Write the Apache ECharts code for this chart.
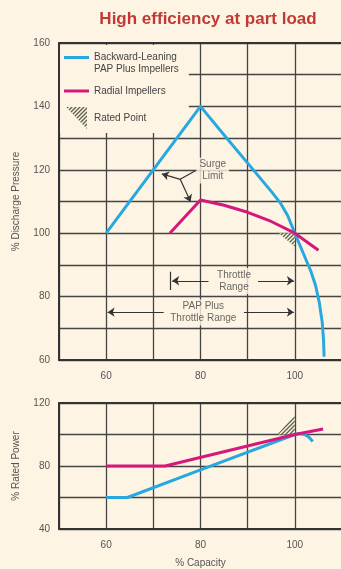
<!DOCTYPE html>
<html><head><meta charset="utf-8">
<script src="https://cdn.jsdelivr.net/npm/echarts@6/dist/echarts.min.js"></script>
<style>html,body{margin:0;padding:0;background:#fdf4e3;} #c{width:341px;height:569px;}</style>
</head><body><div id="c"></div>
<script>
// ---- data ----
const titleText = 'High efficiency at part load';
const capacityTicks = [60, 80, 100];
const pressureTicks = [60, 80, 100, 120, 140, 160];
const powerTicks = [40, 80, 120];
const nameBackward = 'Backward-Leaning\nPAP Plus Impellers';
const nameRadial = 'Radial Impellers';
const nameRated = 'Rated Point';

const pressureBackward = [[60,100],[80,140],[85,131],[90,122.1],[95,113.2],[97,109.4],[98.5,105.5],[100,100],[101.7,94],[103.4,88],[104.4,83.5],[105.2,78],[105.8,72],[106.1,66],[106.2,61]];
const pressureRadial = [[73.5,100],[80,110.5],[85,108.8],[90,106.6],[95,103.7],[100,100],[105,94.6]];
const powerBackward = [[60,60],[64.5,60],[80,77.5],[100,100],[101,100.7],[102,100.2],[103,98.3],[103.8,95.5]];
const powerRadial = [[60,80],[72.5,80],[100,100],[106,103.5]];
const ratedPressure = [100,100, 96.6,100, 100,95.7];
const ratedPower = [100,100, 96.3,100, 100,112.5];

const annotationTexts = [
  {name:'Surge\nLimit', value:[82.6,119.8]},
  {name:'Throttle\nRange', value:[87.1,84.9]},
  {name:'PAP Plus\nThrottle Range', value:[80.6,75]}
];
const plainSegments = [
  [[78.9,119.7],[75.7,117]],
  [[73.6,87.8],[73.6,82.1]]
];
const arrowSegments = [
  [[75.7,117],[71.8,118.7]],
  [[75.7,117],[77.9,109.9]],
  [[81.7,85],[74,85]],
  [[92.2,85],[99.8,85]],
  [[72.2,75.1],[60.3,75.1]],
  [[89.2,75.1],[99.8,75.1]]
];

// ---- styles ----
const BG = '#fdf4e3';
const FONT = 'Liberation Sans, Arial, sans-serif';
const BLUE = '#29a8df';
const PINK = '#d4187c';
const GRID = '#454545';
const AX = '#333';

function hatchCanvas(){
  const c = document.createElement('canvas'); c.width = 4; c.height = 4;
  const g = c.getContext('2d');
  g.fillStyle = BG; g.fillRect(0,0,4,4);
  g.strokeStyle = '#5a604c'; g.lineWidth = 1.3;
  g.beginPath();
  g.moveTo(0,4); g.lineTo(4,0);
  g.moveTo(-1,1); g.lineTo(1,-1);
  g.moveTo(3,5); g.lineTo(5,3);
  g.stroke();
  return c;
}
const hatch = {image: hatchCanvas(), repeat: 'repeat'};

function xAx(grid){
  return {gridIndex:grid, type:'value', min:50, max:110, interval:10,
    axisLine:{show:true, onZero:false, lineStyle:{color:AX, width:2}},
    axisTick:{show:false},
    axisLabel:{margin:11, fontSize:10, color:'#555', fontFamily:FONT,
      formatter:v => capacityTicks.includes(v) ? String(v) : ''},
    splitLine:{show:true, lineStyle:{color:GRID, width:1.3}}};
}
function topAx(grid){
  return {gridIndex:grid, type:'value', min:50, max:110, interval:10, position:'top',
    axisLine:{show:true, onZero:false, lineStyle:{color:AX, width:2}},
    axisTick:{show:false}, axisLabel:{show:false}, splitLine:{show:false}};
}
function yAx(grid, min, max, ticks, name){
  return {gridIndex:grid, type:'value', min:min, max:max, interval:10,
    axisLine:{show:true, onZero:false, lineStyle:{color:AX, width:2}},
    axisTick:{show:false},
    axisLabel:{margin:9, fontSize:10, color:'#555', fontFamily:FONT,
      formatter:v => ticks.includes(v) ? String(v) : ''},
    splitLine:{show:true, lineStyle:{color:GRID, width:1.3}},
    name:name, nameLocation:'middle', nameGap:38,
    nameTextStyle:{fontSize:10, color:'#555', fontFamily:FONT}};
}
function triSeries(vals, xi, yi){
  return {type:'custom', name:nameRated, xAxisIndex:xi, yAxisIndex:yi, z:1, silent:true,
    itemStyle:{color:hatch},
    data:[vals],
    renderItem:(p, api) => {
      const pts = [0,2,4].map(i => api.coord([api.value(i), api.value(i+1)]));
      return {type:'polygon', shape:{points:pts}, style:{fill:hatch}};
    }};
}
function lineSeries(name, data, color, xi, yi){
  return {type:'line', name:name, xAxisIndex:xi, yAxisIndex:yi, data:data, showSymbol:false,
    symbol:'none', smooth:false, z:3, color:color, lineStyle:{color:color, width:3, join:'round'}};
}

const yBottom = yAx(1, 40, 120, powerTicks, '% Rated Power');
yBottom.interval = 20;
const xBottom = xAx(1);
xBottom.name = '% Capacity'; xBottom.nameLocation = 'middle'; xBottom.nameGap = 29;
xBottom.nameTextStyle = {fontSize:10, color:'#555', fontFamily:FONT};

const option = {
  animation:false,
  backgroundColor:BG,
  textStyle:{fontFamily:FONT},
  title:{text:titleText, left:203, top:6, textAlign:'center',
    textStyle:{fontSize:17, fontWeight:'bold', color:'#c03a33', fontFamily:FONT}},
  legend:{left:60, top:45, z:1, orient:'vertical', backgroundColor:BG, padding:[6,10,4,4],
    itemGap:5, itemWidth:25, itemHeight:22, selectedMode:false,
    textStyle:{fontSize:10, color:'#444', lineHeight:12, fontFamily:FONT},
    data:[
      {name:nameBackward, icon:'path://M0,0h0.05v0.05h-0.05z M0,4h25v3h-25z M24.95,21.95h0.05v0.05h-0.05z'},
      {name:nameRadial, icon:'path://M0,0h0.05v0.05h-0.05z M0,9.5h25v3h-25z M24.95,21.95h0.05v0.05h-0.05z'},
      {name:nameRated, icon:'path://M3,0L24,0L24,22Z'}
    ]},
  grid:[
    {left:59, right:-1, top:43, bottom:209, outerBoundsMode:'none', containLabel:false},
    {left:59, right:-1, top:403, bottom:40, outerBoundsMode:'none', containLabel:false}
  ],
  xAxis:[xAx(0), xBottom, topAx(0), topAx(1)],
  yAxis:[yAx(0, 60, 160, pressureTicks, '% Discharge Pressure'), yBottom],
  series:[
    triSeries(ratedPressure, 0, 0),
    triSeries(ratedPower, 1, 1),
    lineSeries(nameBackward, pressureBackward, BLUE, 0, 0),
    lineSeries(nameRadial, pressureRadial, PINK, 0, 0),
    lineSeries(nameBackward, powerBackward, BLUE, 1, 1),
    lineSeries(nameRadial, powerRadial, PINK, 1, 1),
    {type:'lines', coordinateSystem:'cartesian2d', xAxisIndex:0, yAxisIndex:0, silent:true, z:4,
      symbol:['none','none'], lineStyle:{color:'#333', width:1.2, opacity:1},
      data:plainSegments.map(s => ({coords:s}))},
    {type:'lines', coordinateSystem:'cartesian2d', xAxisIndex:0, yAxisIndex:0, silent:true, z:4,
      symbol:['none','arrow'], symbolSize:7, lineStyle:{color:'#333', width:1.2, opacity:1},
      data:arrowSegments.map(s => ({coords:s}))},
    {type:'scatter', xAxisIndex:0, yAxisIndex:0, symbolSize:0, silent:true, z:5,
      label:{show:true, position:'inside', formatter:'{b}', fontSize:10, color:'#444',
        lineHeight:12, backgroundColor:BG, padding:[1,3], fontFamily:FONT},
      data:annotationTexts}
  ]
};
const chart = echarts.init(document.getElementById('c'), null, {renderer:'canvas'});
chart.setOption(option);
</script></body></html>
